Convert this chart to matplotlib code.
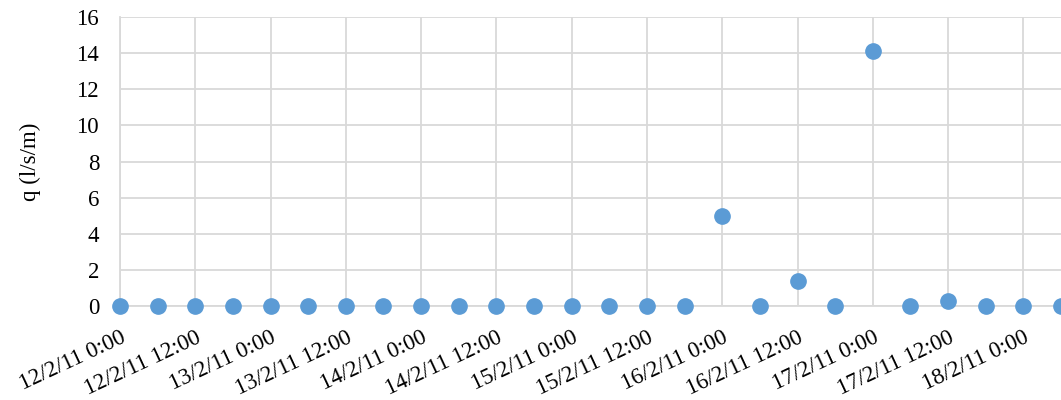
import numpy as np
import pandas as pd
import matplotlib
matplotlib.use("Agg")
import matplotlib.pyplot as plt

plt.rcParams.update({"font.family": ["Liberation Serif", "DejaVu Serif"], "font.size": 16.5})

# q (l/s/m) every 6 h, starting 12/2/11 0:00
start = "2011-02-12 00:00"
q = [0, 0, 0, 0, 0, 0, 0, 0, 0, 0, 0, 0, 0, 0, 0, 0,
     5.0, 0, 1.4, 0, 14.1, 0, 0.3, 0, 0, 0]
tick_labels = ["12/2/11 0:00", "12/2/11 12:00", "13/2/11 0:00", "13/2/11 12:00",
               "14/2/11 0:00", "14/2/11 12:00", "15/2/11 0:00", "15/2/11 12:00",
               "16/2/11 0:00", "16/2/11 12:00", "17/2/11 0:00", "17/2/11 12:00",
               "18/2/11 0:00"]

t = pd.date_range(start, periods=len(q), freq="6h")
ticks = pd.date_range(start, periods=len(tick_labels), freq="12h")

fig = plt.figure(figsize=(10.61, 4.0), dpi=100)
ax = fig.add_axes([0.1131, 0.235, 0.8869, 0.7225])
ax.plot(t, q, "o", color="#5B9BD5", ms=11, clip_on=False, zorder=3)
ax.set_xlim(t[0], t[-1])
ax.set_ylim(0, 16)
ax.set_yticks(np.arange(0, 17, 2))
ax.set_xticks(ticks)
ax.set_xticklabels(tick_labels, rotation=25, ha="right", rotation_mode="anchor")
ax.grid(True, color="#D9D9D9", lw=1.3)
ax.set_axisbelow(True)
for s in ["top", "right"]:
    ax.spines[s].set_visible(False)
for s in ["left", "bottom"]:
    ax.spines[s].set_color("#D9D9D9")
    ax.spines[s].set_linewidth(1.3)
ax.tick_params(length=0)
ax.tick_params(axis="y", pad=15)
ax.tick_params(axis="x", pad=15)
ax.set_ylabel("q (l/s/m)", va="center")
ax.yaxis.set_label_coords(-0.095, 0.5)
fig.savefig("out.png", dpi=100)
